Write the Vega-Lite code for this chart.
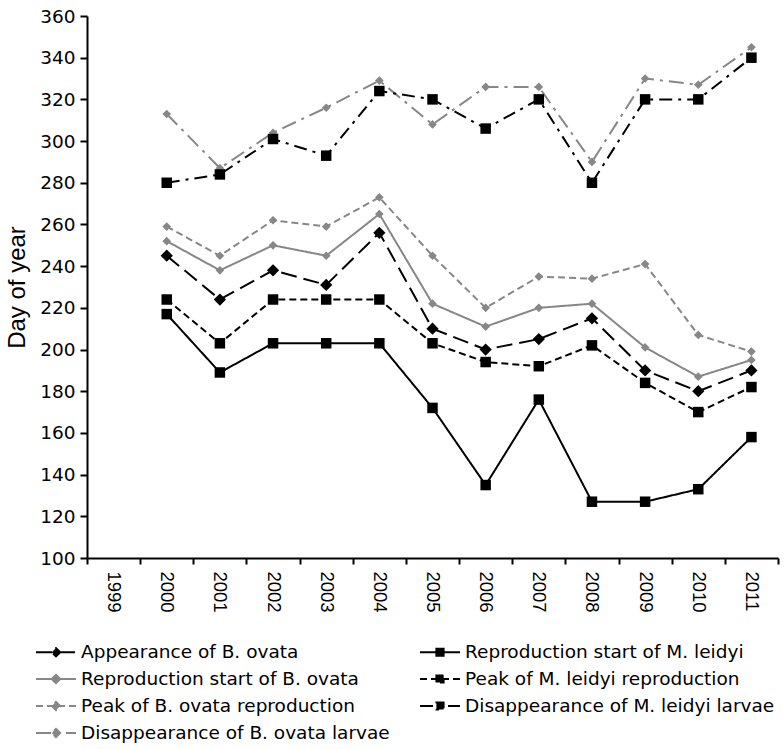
{
  "$schema": "https://vega.github.io/schema/vega-lite/v6.json",
  "width": 691,
  "height": 542,
  "autosize": {"type": "none"},
  "padding": {"left": 87, "top": 16, "right": 6, "bottom": 191},
  "background": "white",
  "config": {"view": {"stroke": null}, "font": "DejaVu Sans"},
  "data": {"values": [
    {"year": 2000, "series": "Appearance of B. ovata", "value": 245},
    {"year": 2001, "series": "Appearance of B. ovata", "value": 224},
    {"year": 2002, "series": "Appearance of B. ovata", "value": 238},
    {"year": 2003, "series": "Appearance of B. ovata", "value": 231},
    {"year": 2004, "series": "Appearance of B. ovata", "value": 256},
    {"year": 2005, "series": "Appearance of B. ovata", "value": 210},
    {"year": 2006, "series": "Appearance of B. ovata", "value": 200},
    {"year": 2007, "series": "Appearance of B. ovata", "value": 205},
    {"year": 2008, "series": "Appearance of B. ovata", "value": 215},
    {"year": 2009, "series": "Appearance of B. ovata", "value": 190},
    {"year": 2010, "series": "Appearance of B. ovata", "value": 180},
    {"year": 2011, "series": "Appearance of B. ovata", "value": 190},
    {"year": 2000, "series": "Reproduction start of B. ovata", "value": 252},
    {"year": 2001, "series": "Reproduction start of B. ovata", "value": 238},
    {"year": 2002, "series": "Reproduction start of B. ovata", "value": 250},
    {"year": 2003, "series": "Reproduction start of B. ovata", "value": 245},
    {"year": 2004, "series": "Reproduction start of B. ovata", "value": 265},
    {"year": 2005, "series": "Reproduction start of B. ovata", "value": 222},
    {"year": 2006, "series": "Reproduction start of B. ovata", "value": 211},
    {"year": 2007, "series": "Reproduction start of B. ovata", "value": 220},
    {"year": 2008, "series": "Reproduction start of B. ovata", "value": 222},
    {"year": 2009, "series": "Reproduction start of B. ovata", "value": 201},
    {"year": 2010, "series": "Reproduction start of B. ovata", "value": 187},
    {"year": 2011, "series": "Reproduction start of B. ovata", "value": 195},
    {"year": 2000, "series": "Peak of B. ovata reproduction", "value": 259},
    {"year": 2001, "series": "Peak of B. ovata reproduction", "value": 245},
    {"year": 2002, "series": "Peak of B. ovata reproduction", "value": 262},
    {"year": 2003, "series": "Peak of B. ovata reproduction", "value": 259},
    {"year": 2004, "series": "Peak of B. ovata reproduction", "value": 273},
    {"year": 2005, "series": "Peak of B. ovata reproduction", "value": 245},
    {"year": 2006, "series": "Peak of B. ovata reproduction", "value": 220},
    {"year": 2007, "series": "Peak of B. ovata reproduction", "value": 235},
    {"year": 2008, "series": "Peak of B. ovata reproduction", "value": 234},
    {"year": 2009, "series": "Peak of B. ovata reproduction", "value": 241},
    {"year": 2010, "series": "Peak of B. ovata reproduction", "value": 207},
    {"year": 2011, "series": "Peak of B. ovata reproduction", "value": 199},
    {"year": 2000, "series": "Disappearance of B. ovata larvae", "value": 313},
    {"year": 2001, "series": "Disappearance of B. ovata larvae", "value": 287},
    {"year": 2002, "series": "Disappearance of B. ovata larvae", "value": 304},
    {"year": 2003, "series": "Disappearance of B. ovata larvae", "value": 316},
    {"year": 2004, "series": "Disappearance of B. ovata larvae", "value": 329},
    {"year": 2005, "series": "Disappearance of B. ovata larvae", "value": 308},
    {"year": 2006, "series": "Disappearance of B. ovata larvae", "value": 326},
    {"year": 2007, "series": "Disappearance of B. ovata larvae", "value": 326},
    {"year": 2008, "series": "Disappearance of B. ovata larvae", "value": 290},
    {"year": 2009, "series": "Disappearance of B. ovata larvae", "value": 330},
    {"year": 2010, "series": "Disappearance of B. ovata larvae", "value": 327},
    {"year": 2011, "series": "Disappearance of B. ovata larvae", "value": 345},
    {"year": 2000, "series": "Reproduction start of M. leidyi", "value": 217},
    {"year": 2001, "series": "Reproduction start of M. leidyi", "value": 189},
    {"year": 2002, "series": "Reproduction start of M. leidyi", "value": 203},
    {"year": 2003, "series": "Reproduction start of M. leidyi", "value": 203},
    {"year": 2004, "series": "Reproduction start of M. leidyi", "value": 203},
    {"year": 2005, "series": "Reproduction start of M. leidyi", "value": 172},
    {"year": 2006, "series": "Reproduction start of M. leidyi", "value": 135},
    {"year": 2007, "series": "Reproduction start of M. leidyi", "value": 176},
    {"year": 2008, "series": "Reproduction start of M. leidyi", "value": 127},
    {"year": 2009, "series": "Reproduction start of M. leidyi", "value": 127},
    {"year": 2010, "series": "Reproduction start of M. leidyi", "value": 133},
    {"year": 2011, "series": "Reproduction start of M. leidyi", "value": 158},
    {"year": 2000, "series": "Peak of M. leidyi reproduction", "value": 224},
    {"year": 2001, "series": "Peak of M. leidyi reproduction", "value": 203},
    {"year": 2002, "series": "Peak of M. leidyi reproduction", "value": 224},
    {"year": 2003, "series": "Peak of M. leidyi reproduction", "value": 224},
    {"year": 2004, "series": "Peak of M. leidyi reproduction", "value": 224},
    {"year": 2005, "series": "Peak of M. leidyi reproduction", "value": 203},
    {"year": 2006, "series": "Peak of M. leidyi reproduction", "value": 194},
    {"year": 2007, "series": "Peak of M. leidyi reproduction", "value": 192},
    {"year": 2008, "series": "Peak of M. leidyi reproduction", "value": 202},
    {"year": 2009, "series": "Peak of M. leidyi reproduction", "value": 184},
    {"year": 2010, "series": "Peak of M. leidyi reproduction", "value": 170},
    {"year": 2011, "series": "Peak of M. leidyi reproduction", "value": 182},
    {"year": 2000, "series": "Disappearance of M. leidyi larvae", "value": 280},
    {"year": 2001, "series": "Disappearance of M. leidyi larvae", "value": 284},
    {"year": 2002, "series": "Disappearance of M. leidyi larvae", "value": 301},
    {"year": 2003, "series": "Disappearance of M. leidyi larvae", "value": 293},
    {"year": 2004, "series": "Disappearance of M. leidyi larvae", "value": 324},
    {"year": 2005, "series": "Disappearance of M. leidyi larvae", "value": 320},
    {"year": 2006, "series": "Disappearance of M. leidyi larvae", "value": 306},
    {"year": 2007, "series": "Disappearance of M. leidyi larvae", "value": 320},
    {"year": 2008, "series": "Disappearance of M. leidyi larvae", "value": 280},
    {"year": 2009, "series": "Disappearance of M. leidyi larvae", "value": 320},
    {"year": 2010, "series": "Disappearance of M. leidyi larvae", "value": 320},
    {"year": 2011, "series": "Disappearance of M. leidyi larvae", "value": 340}
  ]},
  "encoding": {
    "x": {
      "field": "year", "type": "ordinal",
      "scale": {"type": "band", "domain": [1999,2000,2001,2002,2003,2004,2005,2006,2007,2008,2009,2010,2011], "paddingInner": 0, "paddingOuter": 0},
      "axis": {"title": null, "labelAngle": 90, "tickBand": "extent", "labelFont": "Liberation Sans", "labelFontSize": 18.5, "labelColor": "black", "domainColor": "black", "domainWidth": 2, "tickColor": "black", "tickWidth": 2, "tickSize": 6, "labelPadding": 7}
    },
    "y": {
      "field": "value", "type": "quantitative",
      "scale": {"domain": [100, 360], "nice": false, "zero": false},
      "axis": {"title": "Day of year", "values": [100,120,140,160,180,200,220,240,260,280,300,320,340,360], "grid": false, "labelFont": "DejaVu Sans", "labelFontSize": 18.5, "labelColor": "black", "domainColor": "black", "domainWidth": 2, "tickColor": "black", "tickWidth": 2, "tickSize": 7, "labelPadding": 5, "titleFont": "Liberation Sans", "titleFontSize": 24, "titleFontWeight": "normal", "titleColor": "black", "titlePadding": 10}
    }
  },
  "layer": [
    {
      "mark": {"type": "line", "strokeWidth": 2},
      "encoding": {
        "color": {
          "field": "series", "type": "nominal",
          "scale": {
            "domain": ["Appearance of B. ovata", "Reproduction start of M. leidyi", "Reproduction start of B. ovata", "Peak of M. leidyi reproduction", "Peak of B. ovata reproduction", "Disappearance of M. leidyi larvae", "Disappearance of B. ovata larvae"],
            "range": ["#000000", "#000000", "#878787", "#000000", "#878787", "#000000", "#878787"]
          },
          "legend": {
            "title": null, "orient": "none", "legendX": -42, "legendY": 625,
            "direction": "horizontal",
            "columns": 2, "columnPadding": 26, "rowPadding": 6, "padding": 0,
            "symbolSize": 400, "symbolStrokeWidth": 2, "labelOffset": 14,
            "labelFont": "DejaVu Sans", "labelFontSize": 18.5, "labelColor": "black", "labelLimit": 600,
            "encode": {
              "symbols": {
                "update": {
                  "shape": {"signal": "indexof(datum.value, 'ovata') >= 0 ? 'M-2,0L2,0M0,-0.42L0.42,0L0,0.42L-0.42,0Z' : 'M-2,0L2,0M-0.36,-0.36L0.36,-0.36L0.36,0.36L-0.36,0.36Z'"},
                  "fill": {"scale": "color", "field": "value"},
                  "stroke": {"scale": "color", "field": "value"},
                  "strokeDash": {"scale": "strokeDash", "field": "value"},
                  "strokeWidth": {"value": 2},
                  "opacity": {"value": 1}
                }
              }
            }
          }
        },
        "strokeDash": {
          "field": "series", "type": "nominal",
          "scale": {
            "domain": ["Appearance of B. ovata", "Reproduction start of M. leidyi", "Reproduction start of B. ovata", "Peak of M. leidyi reproduction", "Peak of B. ovata reproduction", "Disappearance of M. leidyi larvae", "Disappearance of B. ovata larvae"],
            "range": [[16, 7], [1, 0], [1, 0], [7, 4], [7, 4], [13, 6, 3, 6], [15, 6, 3, 6]]
          }
        }
      }
    },
    {
      "mark": {"type": "point", "filled": true, "opacity": 1, "strokeWidth": 0},
      "encoding": {
        "fill": {
          "condition": {"test": "indexof(datum.series, 'ovata') >= 0 && datum.series !== 'Appearance of B. ovata'", "value": "#878787"},
          "value": "#000000"
        },
        "shape": {
          "condition": {"test": "indexof(datum.series, 'ovata') >= 0", "value": "diamond"},
          "value": "square"
        },
        "size": {
          "condition": [
            {"test": "datum.series === 'Appearance of B. ovata'", "value": 150},
            {"test": "indexof(datum.series, 'ovata') >= 0", "value": 75}
          ],
          "value": 110
        }
      }
    }
  ]
}
